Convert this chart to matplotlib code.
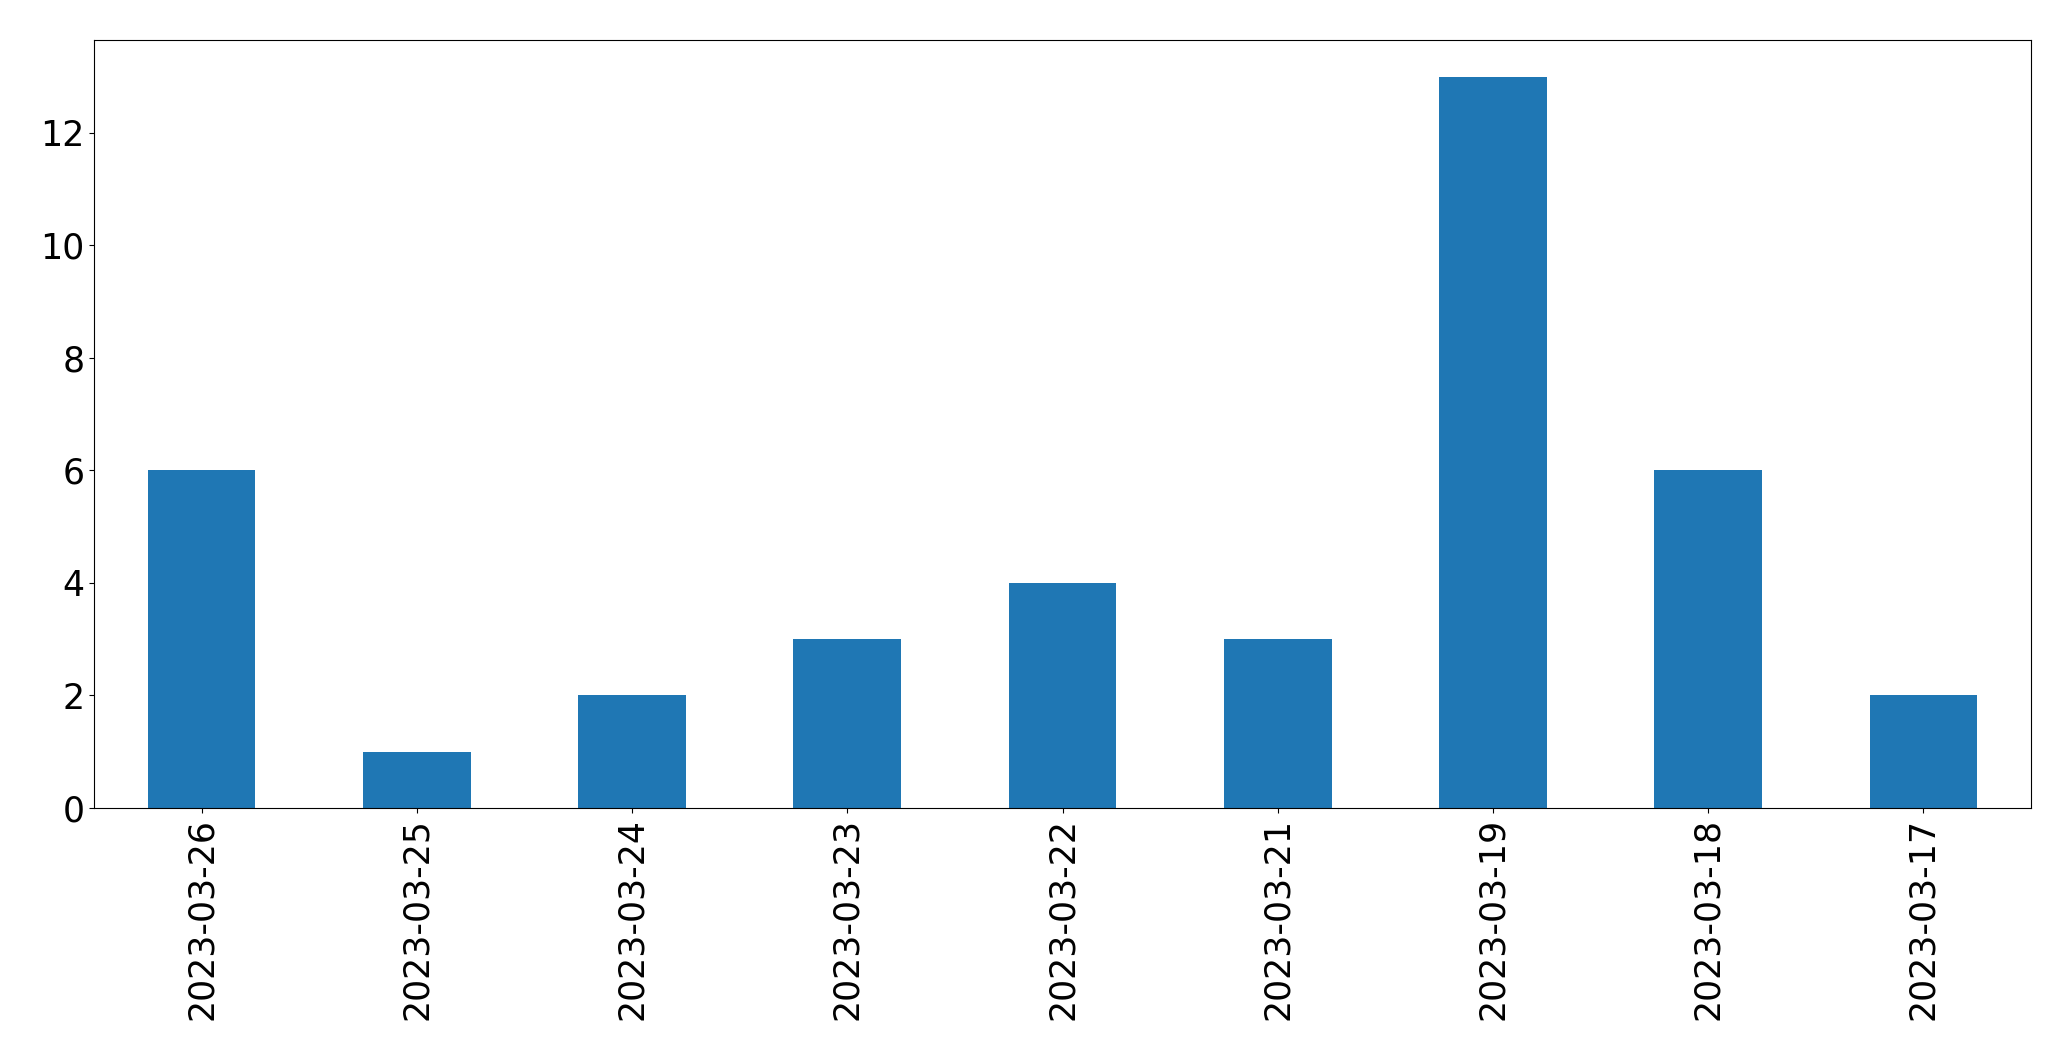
import matplotlib
matplotlib.use("Agg")
import matplotlib.pyplot as plt
import pandas as pd

dates = ["2023-03-26", "2023-03-25", "2023-03-24", "2023-03-23", "2023-03-22",
         "2023-03-21", "2023-03-19", "2023-03-18", "2023-03-17"]
counts = [6, 1, 2, 3, 4, 3, 13, 6, 2]

plt.rcParams['font.size'] = 25
s = pd.Series(counts, index=dates)
fig, ax = plt.subplots(figsize=(20.71, 10.61), dpi=100)
s.plot(kind="bar", ax=ax, color="#1f77b4")
ax.set_yticks([0, 2, 4, 6, 8, 10, 12])
fig.subplots_adjust(left=0.0454, right=0.9807, top=0.9623, bottom=0.2385)
fig.savefig("out.png")
